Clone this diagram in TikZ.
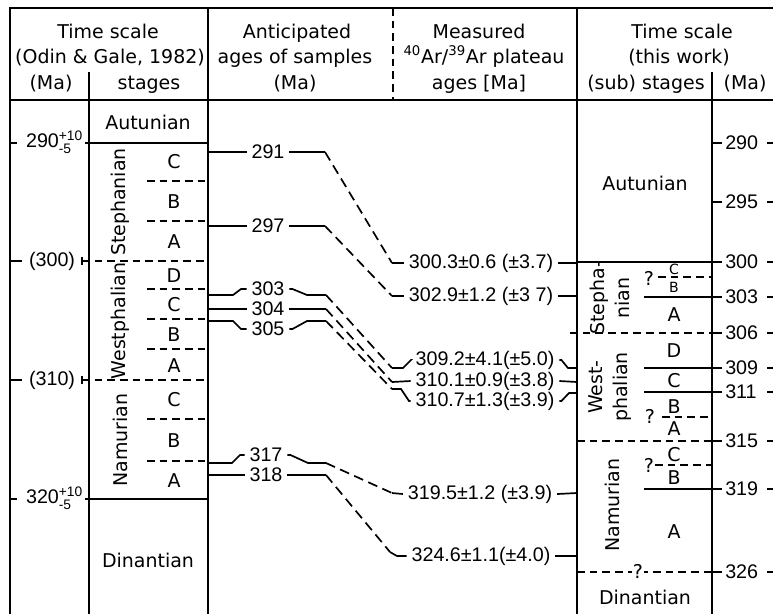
\documentclass[tikz,border=0pt]{standalone}
\usepackage{fontspec}
\usepackage{amsmath}
\setmainfont{DejaVu Sans}
\newfontfamily\numfont{Liberation Sans}
\usepackage{tikz}
\usetikzlibrary{calc}

\begin{document}
\begin{tikzpicture}[x=0.025cm, y=-0.025cm, line width=1.2pt,
    every node/.style={font=\fontsize{13.5}{16}\selectfont}]
    % styles
    \tikzstyle{num}=[font=\fontsize{14}{16}\selectfont\numfont, inner xsep=3pt, inner ysep=1pt]
    \tikzstyle{head}=[anchor=base]
    \tikzstyle{vname}=[rotate=90, align=center]
    \tikzstyle{stagedash}=[dash pattern=on 5.5pt off 3.5pt]
    \tikzstyle{linkdash}=[dash pattern=on 7pt off 4pt]

    \useasboundingbox (0,0) rectangle (773,614);

    % Frame
    \draw (10,614) -- (10,8) -- (773,8);
    \draw (10,100) -- (773,100);
    \draw (208,8) -- (208,614);
    \draw (577,8) -- (577,614);
    \draw[stagedash] (393,8) -- (393,100);
    \draw (89,72) -- (89,614);
    \draw (712,72) -- (712,614);

    % Headers
    \node[head] (h1a) at (108,38) {Time scale};
    \node[head] (h1b) at (110,63) {(Odin \& Gale, 1982)};
    \node[head] (h1c) at (51,89) {(Ma)};
    \node[head] (h1d) at (149,89) {stages};
    \node[head] (h2a) at (297,38) {Anticipated};
    \node[head] (h2b) at (295,63) {ages of samples};
    \node[head] (h2c) at (295,89) {(Ma)};
    \node[head] (h3a) at (479,38) {Measured};
    \node[head] (h3b) at (484,63) {\textsuperscript{40}Ar/\textsuperscript{39}Ar plateau};
    \node[head] (h3c) at (479,89) {ages [Ma]};
    \node[head] (h4a) at (682,38) {Time scale};
    \node[head] (h4b) at (679,63) {(this work)};
    \node[head] (h4c) at (646,89) {(sub) stages};
    \node[head] (h4d) at (745,89) {(Ma)};

    % Left time scale (Odin & Gale)
    \draw (10,143) -- (17,143);
    \node[num, anchor=west] (o290) at (21,142) {290$^{\text{+10}}_{\text{-5}}$};
    \draw (85,143) -- (208,143);
    \draw (10,261) -- (22,261);
    \node[num, anchor=west] (o300) at (24,261) {(300)};
    \draw[stagedash] (82,261) -- (208,261);
    \draw (82,257) -- (82,265);
    \draw (10,380) -- (22,380);
    \node[num, anchor=west] (o310) at (24,380) {(310)};
    \draw[stagedash] (82,380) -- (208,380);
    \draw (82,376) -- (82,384);
    \draw (10,499) -- (17,499);
    \node[num, anchor=west] (o320) at (21,498) {320$^{\text{+10}}_{\text{-5}}$};
    \draw (85,499) -- (208,499);

    % Left stages
    \foreach \y in {181,221,289,319,349,419,461}
      \draw[stagedash] (147,\y) -- (208,\y);
    \foreach \t/\y [count=\i] in {C/162,B/202,A/242,D/276,C/305,B/335,A/366,C/400,B/441,A/481}
      \node (s\i) at (174,\y) {\t};
    \node (aut1) at (148,122) {Autunian};
    \node (din1) at (148,560) {Dinantian};
    \node[vname] (ste1) at (120,202) {Stephanian};
    \node[vname] (wes1) at (120,321) {Westphalian};
    \node[vname] (nam1) at (120,440) {Namurian};

    % Anticipated ages
    \node[num] (a291) at (268,152) {291};
    \node[num] (a297) at (268,226) {297};
    \node[num] (a303) at (268,289) {303};
    \node[num] (a304) at (268,309) {304};
    \node[num] (a305) at (268,329) {305};
    \node[num] (a317) at (266,455) {317};
    \node[num] (a318) at (266,475) {318};

    % Measured ages
    \node[num] (m300) at (481,263) {300.3±0.6 (±3.7)};
    \node[num] (m302) at (481,296) {302.9±1.2 (±3 7)};
    \node[num] (m309) at (485,360) {309.2±4.1(±5.0)};
    \node[num] (m310a) at (485,381) {310.1±0.9(±3.8)};
    \node[num] (m310b) at (485,401) {310.7±1.3(±3.9)};
    \node[num] (m319) at (480,494) {319.5±1.2 (±3.9)};
    \node[num] (m324) at (481,556) {324.6±1.1(±4.0)};

    % Links 291 and 297
    \draw (208,152) -- (a291.west);
    \draw (a291.east) -- (325,152);
    \draw[linkdash] (325,152) -- (392,263);
    \draw (392,263) -- (m300.west);
    \draw (m300.east) -- (577,263);
    \draw (208,226) -- (a297.west);
    \draw (a297.east) -- (325,226);
    \draw[linkdash] (325,226) -- (392,296);
    \draw (392,296) -- (m302.west);
    \draw (m302.east) -- (577,296);

    % Links 303, 304, 305
    \draw (208,295) -- (233,295) -- (241,289) -- (a303.west);
    \draw (a303.east) -- ++(3,0) -- (307,295) -- (326,295);
    \draw[linkdash] (326,295) -- (392,368);
    \draw (392,368) -- (403,368) -- (411,360) -- (m309.west);
    \draw (m309.east) -- ++(2,0) -- (568,368) -- (577,368);
    \draw (208,309) -- (a304.west);
    \draw (a304.east) -- (326,309);
    \draw[linkdash] (326,309) -- (392,382);
    \draw (392,382) -- (m310a.west);
    \draw (m310a.east) -- (577,382);
    \draw (208,321) -- (233,321) -- (241,329) -- (a305.west);
    \draw (a305.east) -- ++(3,0) -- (307,321) -- (326,321);
    \draw[linkdash] (326,321) -- (392,389);
    \draw (392,389) -- (401,389) -- (409,401) -- (m310b.west);
    \draw (m310b.east) -- ++(2,0) -- (569,393) -- (577,393);

    % Links 317 and 318
    \draw (208,463) -- (232,463) -- (240,455) -- (a317.west);
    \draw (a317.east) -- ++(3,0) -- (308,463) -- (326,463);
    \draw[linkdash] (326,463) -- (392,493);
    \draw (392,493) -- (m319.west);
    \draw (m319.east) -- (577,493);
    \draw (208,475) -- (a318.west);
    \draw (a318.east) -- (326,475);
    \draw[linkdash] (326,475) -- (390,552);
    \draw (390,552) -- (397,556) -- (m324.west);
    \draw (m324.east) -- (577,556);

    % Right time scale (this work)
    \foreach \v/\y in {290/143,295/202,300/262,303/297,306/333,309/368,311/392,315/441,319/489,326/572} {
      \draw (712,\y) -- (722,\y);
      \node[num, anchor=west, inner xsep=1pt] (t\v) at (723,\y) {\v};
      \draw (767,\y) -- (773,\y);
    }

    % Right stages
    \draw (577,262) -- (712,262);
    \draw[stagedash] (658,277) -- (712,277);
    \draw (644,297) -- (712,297);
    \draw[stagedash] (570,333) -- (712,333);
    \draw (644,368) -- (712,368);
    \draw (644,392) -- (712,392);
    \draw[stagedash] (662,417) -- (712,417);
    \draw[stagedash] (577,441) -- (712,441);
    \draw[stagedash] (655,465) -- (712,465);
    \draw (644,489) -- (712,489);
    \draw[stagedash] (577,572) -- (712,572);

    \node (r1) at (645,183) {Autunian};
    \node[vname] (r2) at (610,298) {Stepha-\\[2pt]nian};
    \node[font=\fontsize{10}{12}\selectfont, inner sep=1pt] (r3) at (674,269) {C};
    \node[font=\fontsize{10}{12}\selectfont, inner sep=1pt] (r4) at (674,287) {B};
    \node (r5) at (649,278) {?};
    \node (r6) at (674,315) {A};
    \node[vname] (r7) at (610,387) {West-\\[2pt]phalian};
    \node (r8) at (674,351) {D};
    \node (r9) at (674,381) {C};
    \node (r10) at (674,407) {B};
    \node (r11) at (650,416) {?};
    \node (r12) at (674,429) {A};
    \node[vname] (r13) at (612,505) {Namurian};
    \node (r14) at (674,455) {C};
    \node (r15) at (649,465) {?};
    \node (r16) at (674,478) {B};
    \node (r17) at (674,532) {A};
    \node[fill=white, inner sep=1pt] (r18) at (638,571) {?};
    \node (r19) at (645,597) {Dinantian};
\end{tikzpicture}
\end{document}
